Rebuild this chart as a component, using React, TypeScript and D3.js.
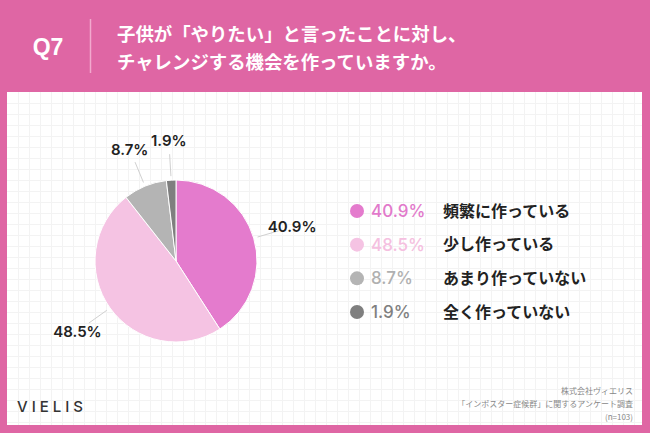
import React from "react";
import * as d3 from "d3";

const categories = ["頻繁に作っている", "少し作っている", "あまり作っていない", "全く作っていない"];
const values = [40.9, 48.5, 8.7, 1.9];
const colors = ["#E47BCD", "#F5C3E3", "#B4B4B4", "#7F7F7F"];
const legendTextColors = ["#E27ACB", "#F5C0E0", "#B0B0B0", "#808080"];
const titleLines = ["子供が「やりたい」と言ったことに対し、", "チャレンジする機会を作っていますか。"];
const footerLines = ["株式会社ヴィエリス", "「インポスター症候群」に関するアンケート調査", "(n=103)"];

const W = 650;
const H = 433;
const BG = "#DF66A4";
const JP = "'Noto Sans CJK JP', 'Noto Sans', sans-serif";
const NUM = "Inter, 'Noto Sans', sans-serif";

export default function App() {
  const cx = 176;
  const cy = 261;
  const r = 81;

  const pie = d3.pie<number>().sort(null).value((d) => d)(values);
  const arc = d3.arc<d3.PieArcDatum<number>>().innerRadius(0).outerRadius(r);

  const panel = { x: 7, y: 92, w: 635, h: 333 };
  const step = 11;
  const gx = d3.range(panel.x + step, panel.x + panel.w, step);
  const gy = d3.range(panel.y + step, panel.y + panel.h, step);

  const legendY = d3.scalePoint<number>().domain(d3.range(values.length)).range([211, 312]);

  const polar = (a: number, rad: number) => [cx + Math.sin(a) * rad, cy - Math.cos(a) * rad];

  return (
    <svg width={W} height={H} style={{ position: "absolute", left: 0, top: 0 }} xmlns="http://www.w3.org/2000/svg">
      <rect x={0} y={0} width={W} height={H} fill={BG} />
      <rect x={panel.x} y={panel.y} width={panel.w} height={panel.h} fill="#fff" />
      <g stroke="#F3F3F3" strokeWidth={1}>
        {gx.map((x) => (
          <line key={"x" + x} x1={x + 0.5} x2={x + 0.5} y1={panel.y} y2={panel.y + panel.h} />
        ))}
        {gy.map((y) => (
          <line key={"y" + y} x1={panel.x} x2={panel.x + panel.w} y1={y + 0.5} y2={y + 0.5} />
        ))}
      </g>

      {/* header */}
      <text x={48} y={55} fill="#fff" fontFamily="'Liberation Sans', Arial, sans-serif" fontWeight={700} fontSize={23} textAnchor="middle">
        Q7
      </text>
      <line x1={90.5} x2={90.5} y1={19} y2={73} stroke="#F2A9CE" strokeWidth={1.5} />
      {titleLines.map((t, i) => (
        <text key={i} x={117} y={41 + i * 28} fill="#fff" fontFamily={JP} fontWeight={700} fontSize={18.4}>
          {t}
        </text>
      ))}

      {/* pie */}
      <g transform={`translate(${cx},${cy})`}>
        {pie.map((p, i) => (
          <path key={i} d={arc(p) || ""} fill={colors[i]} stroke="#fff" strokeWidth={1} />
        ))}
      </g>
      {pie.map((p, i) => {
        const m = (p.startAngle + p.endAngle) / 2;
        const [x1, y1] = polar(m, r + 4);
        const [x2, y2] = polar(m, r + 26);
        const [lx, ly] = polar(m, r + 40);
        return (
          <g key={"l" + i}>
            <line x1={x1} y1={y1} x2={x2} y2={y2} stroke="#D0D0D0" strokeWidth={1} />
            <text x={lx} y={ly} dy="0.36em" textAnchor="middle" fontFamily={NUM} fontWeight={600} fontSize={15} fill="#222">
              {values[i].toFixed(1)}%
            </text>
          </g>
        );
      })}

      {/* legend */}
      {categories.map((c, i) => {
        const y = legendY(i) as number;
        return (
          <g key={"lg" + i}>
            <circle cx={357} cy={y} r={7} fill={colors[i]} />
            <text x={371} y={y} dy="0.36em" fontFamily={NUM} fontWeight={500} fontSize={17} fill={legendTextColors[i]}>
              {values[i].toFixed(1)}%
            </text>
            <text x={443} y={y} dy="0.36em" fontFamily={JP} fontWeight={700} fontSize={16} fill="#222">
              {c}
            </text>
          </g>
        );
      })}

      {/* footer */}
      <text x={17} y={412} fontFamily={NUM} fontWeight={500} fontSize={15} letterSpacing={4} fill="#333">
        VIELIS
      </text>
      {footerLines.map((t, i) => (
        <text key={"f" + i} x={633} y={394 + i * 13} textAnchor="end" fontFamily={JP} fontSize={8} fill="#888">
          {t}
        </text>
      ))}
    </svg>
  );
}
